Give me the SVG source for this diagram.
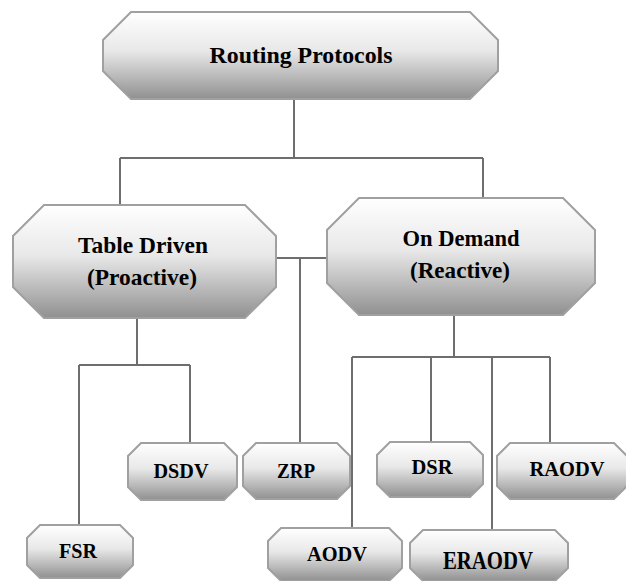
<svg xmlns="http://www.w3.org/2000/svg" width="626" height="581" viewBox="0 0 626 581">
<defs>
<linearGradient id="g" x1="0" y1="0" x2="0" y2="1">
<stop offset="0" stop-color="#ffffff"/>
<stop offset="0.45" stop-color="#e8e8e8"/>
<stop offset="1" stop-color="#909090"/>
</linearGradient>
</defs>
<style>
.box{fill:url(#g);stroke:#a0a0a0;stroke-width:2}
.t{font-family:"Liberation Serif","DejaVu Serif","Times New Roman",serif;font-weight:bold;fill:#000;text-anchor:middle}
.big{font-size:24px}
.mid{font-size:23px}
.sm{font-size:21px}
.con{fill:none;stroke:#6e6e6e;stroke-width:2}
</style>
<rect width="626" height="581" fill="#ffffff"/>
<g id="connectors">
<path class="con" d="M294 99 V158 M120 158 H483 M120 158 V205 M483 158 V198"/>
<path class="con" d="M276 258 H327 M300 258 V443"/>
<path class="con" d="M137 318 V365 M79 365 H190 M79 365 V525 M190 365 V443"/>
<path class="con" d="M454 315 V357 M352 357 H550 M352 357 V528 M431 357 V442 M492 357 V530 M550 357 V443"/>
</g>
<g id="routing-protocols">
<path class="box" d="M131 12 H470 L498 40 V71 L470 99 H131 L103 71 V40 Z"/>
<text class="t big" x="301" y="63" textLength="183" lengthAdjust="spacingAndGlyphs">Routing Protocols</text>
</g>
<g id="table-driven">
<path class="box" d="M44 205 H245 L276 236 V287 L245 318 H44 L13 287 V236 Z"/>
<text class="t mid" x="143" y="253" textLength="130" lengthAdjust="spacingAndGlyphs">Table Driven</text>
<text class="t mid" x="142" y="285" textLength="110" lengthAdjust="spacingAndGlyphs">(Proactive)</text>
</g>
<g id="on-demand">
<path class="box" d="M359 198 H563 L595 230 V283 L563 315 H359 L327 283 V230 Z"/>
<text class="t mid" x="461" y="246" textLength="117" lengthAdjust="spacingAndGlyphs">On Demand</text>
<text class="t mid" x="460" y="278" textLength="100" lengthAdjust="spacingAndGlyphs">(Reactive)</text>
</g>
<g id="dsdv">
<path class="box" d="M141 443 H224 L237 456 V487 L224 500 H141 L128 487 V456 Z"/>
<text class="t sm" x="181" y="478" textLength="55" lengthAdjust="spacingAndGlyphs">DSDV</text>
</g>
<g id="zrp">
<path class="box" d="M256 443 H337 L350 456 V486 L337 499 H256 L243 486 V456 Z"/>
<text class="t sm" x="296" y="478" textLength="38" lengthAdjust="spacingAndGlyphs">ZRP</text>
</g>
<g id="dsr">
<path class="box" d="M390 442 H470 L483 455 V484 L470 497 H390 L377 484 V455 Z"/>
<text class="t sm" x="432" y="474" textLength="41" lengthAdjust="spacingAndGlyphs">DSR</text>
</g>
<g id="raodv">
<path class="box" d="M510 443 H614 L627 456 V486 L614 499 H510 L497 486 V456 Z"/>
<text class="t sm" x="567" y="476" textLength="75" lengthAdjust="spacingAndGlyphs">RAODV</text>
</g>
<g id="fsr">
<path class="box" d="M40 525 H120 L133 538 V565 L120 578 H40 L27 565 V538 Z"/>
<text class="t sm" x="78" y="558" textLength="38" lengthAdjust="spacingAndGlyphs">FSR</text>
</g>
<g id="aodv">
<path class="box" d="M281 528 H389 L402 541 V568 L389 581 H281 L268 568 V541 Z"/>
<text class="t sm" x="337" y="561" textLength="60" lengthAdjust="spacingAndGlyphs">AODV</text>
</g>
<g id="eraodv">
<path class="box" d="M423 530 H555 L568 543 V568 L555 581 H423 L410 568 V543 Z"/>
<text class="t" style="font-size:25px" x="488" y="569" textLength="90" lengthAdjust="spacingAndGlyphs">ERAODV</text>
</g>
</svg>
